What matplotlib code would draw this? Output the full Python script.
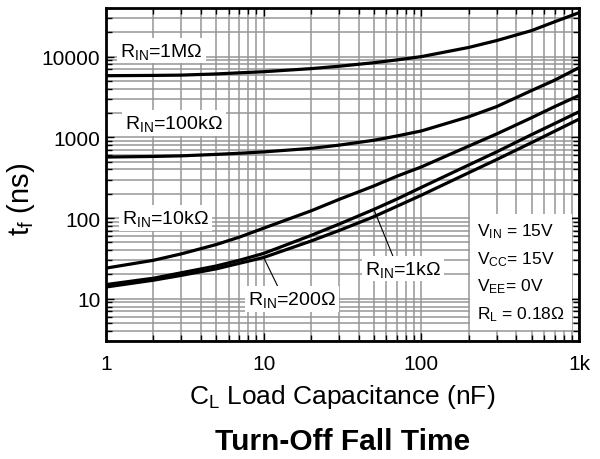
import numpy as np
import matplotlib
matplotlib.use('Agg')
import matplotlib.pyplot as plt

plt.rcParams['font.family'] = ['Liberation Sans', 'DejaVu Sans']
plt.rcParams['mathtext.fontset'] = 'custom'
plt.rcParams['mathtext.rm'] = 'Liberation Sans'
plt.rcParams['mathtext.it'] = 'Liberation Sans'

# load capacitance (nF)
cl = [1, 2, 3, 5, 7, 10, 20, 30, 50, 70, 100, 200, 300, 500, 700, 1000]

# fall time (ns) for each R_IN
tf_1m = [5800, 5850, 5900, 6100, 6300, 6500, 7100, 7600, 8400, 9100, 10000, 13000, 15800, 21000, 27000, 35000]
tf_100k = [570, 580, 590, 615, 635, 660, 730, 800, 920, 1040, 1200, 1800, 2400, 3800, 5100, 7300]
tf_10k = [24, 30, 36, 47, 58, 75, 123, 170, 250, 330, 430, 780, 1100, 1750, 2400, 3300]
tf_1k = [15, 18, 21, 25.5, 30, 36.5, 61, 84, 128, 172, 240, 455, 660, 1080, 1480, 2075]
tf_200 = [14, 17, 19.5, 23.5, 27.5, 32.5, 52, 70, 104, 140, 192, 365, 530, 860, 1190, 1680]

xticks = [1, 10, 100, 1000]
xtick_labels = ['1', '10', '100', '1k']
yticks = [10, 100, 1000, 10000]

fig = plt.figure(figsize=(6, 4.6), dpi=100)
ax = fig.add_axes([0.1767, 0.2565, 0.7883, 0.7239])

for tf in [tf_1m, tf_100k, tf_10k, tf_1k, tf_200]:
    ax.plot(cl, tf, color='black', lw=2.3, solid_capstyle='butt',
            solid_joinstyle='round', zorder=4)

ax.set_xscale('log')
ax.set_yscale('log')
ax.set_xlim(1, 1000)
ax.set_ylim(3, 40000)
ax.set_xticks(xticks)
ax.set_xticklabels(xtick_labels)
ax.set_yticks(yticks)
ax.set_yticklabels([str(v) for v in yticks])

ax.grid(True, which='both', color='#969696', lw=1.1, zorder=1)
ax.set_axisbelow(True)
ax.tick_params(which='both', direction='in', top=True, right=True, labelsize=15, color='black')
ax.tick_params(axis='x', pad=9)
ax.tick_params(axis='y', pad=4)
ax.tick_params(which='major', length=6, width=1)
ax.tick_params(which='minor', length=4, width=1)
for s in ax.spines.values():
    s.set_linewidth(2)
    s.set_zorder(6)

box = dict(facecolor='white', edgecolor='none', pad=2)
lbl = dict(fontsize=14, ha='left', va='center', bbox=box, zorder=3)
ax.text(1.23, 11900, r'R$_{\rm IN}$=1MΩ', **lbl)
ax.text(1.32, 1500, r'R$_{\rm IN}$=100kΩ', **lbl)
ax.text(1.26, 100, r'R$_{\rm IN}$=10kΩ', **lbl)

ax.annotate(r'R$_{\rm IN}$=200Ω', xy=(cl[5], tf_200[5]), xytext=(7.96, 10),
            fontsize=14, ha='left', va='center', bbox=box, zorder=3,
            arrowprops=dict(arrowstyle='-', color='black', lw=0.8,
                            shrinkA=0, shrinkB=0, relpos=(0.35, 1.0)))
ax.annotate(r'R$_{\rm IN}$=1kΩ', xy=(cl[8], tf_1k[8]), xytext=(43.9, 23.7),
            fontsize=14, ha='left', va='center', bbox=box, zorder=3,
            arrowprops=dict(arrowstyle='-', color='black', lw=0.8,
                            shrinkA=0, shrinkB=0, relpos=(0.38, 1.0)))

ax.text(0.784, 0.207,
        'V$_{\\rm IN}$ = 15V\nV$_{\\rm CC}$= 15V\nV$_{\\rm EE}$= 0V\nR$_{\\rm L}$ = 0.18Ω',
        transform=ax.transAxes, fontsize=12.5, ha='left', va='center',
        linespacing=1.65, zorder=3,
        bbox=dict(facecolor='white', edgecolor='none', pad=5))

ax.set_xlabel(r'C$_{\rm L}$ Load Capacitance (nF)', fontsize=19, labelpad=7)
ax.set_ylabel(r't$_{\rm f}$ (ns)', fontsize=21)
ax.yaxis.set_label_coords(-0.146, 0.43)
fig.text(343 / 600, 1 - 442 / 460, 'Turn-Off Fall Time', fontsize=21.5, fontweight='bold',
         ha='center', va='center')

fig.savefig('out.png', dpi=100)
